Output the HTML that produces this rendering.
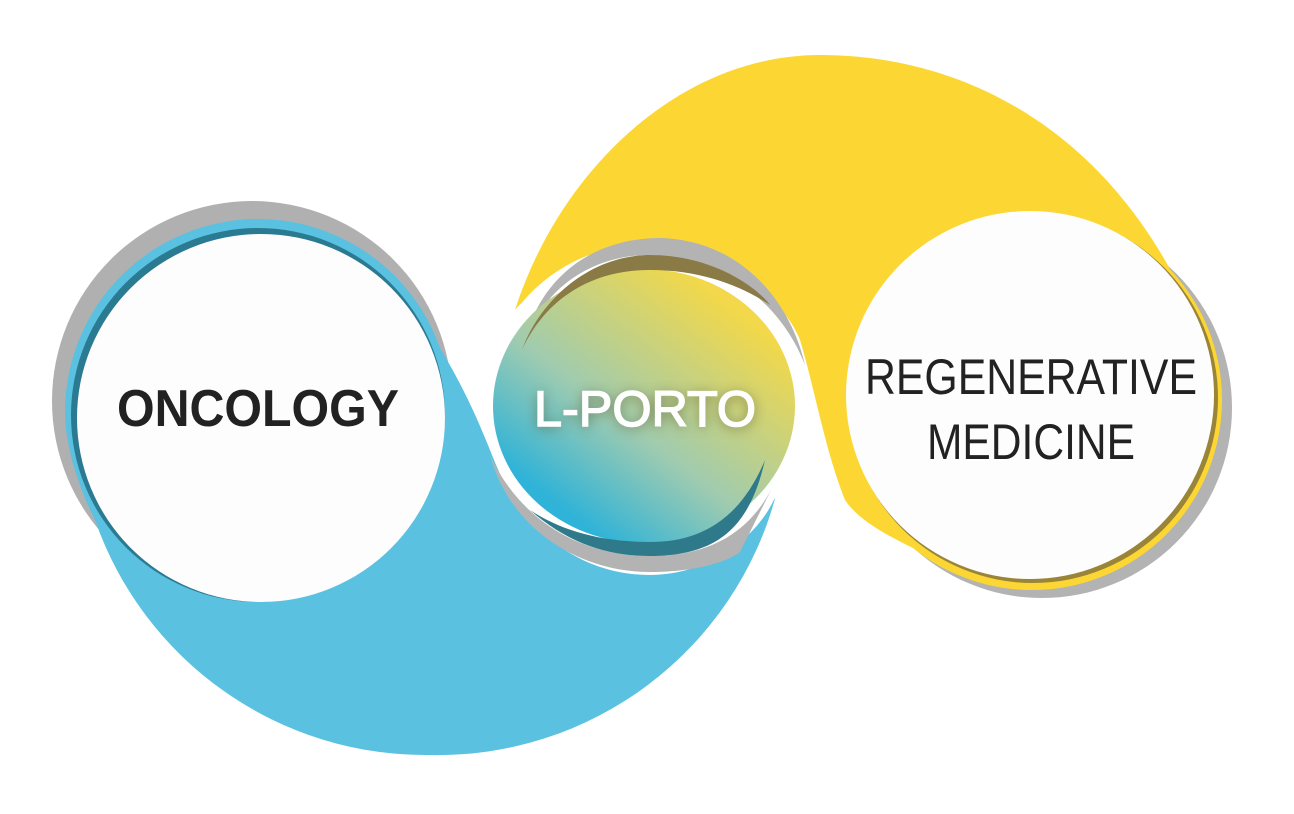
<!DOCTYPE html>
<html><head><meta charset="utf-8"><style>
html,body{margin:0;padding:0;background:#fff;width:1294px;height:814px;overflow:hidden}
</style></head><body>
<svg width="1294" height="814" viewBox="0 0 1294 814" xmlns="http://www.w3.org/2000/svg">
<defs>
<linearGradient id="lg" x1="0.2" y1="0.85" x2="0.8" y2="0.15">
<stop offset="0" stop-color="#2fb3d8"/>
<stop offset="0.4" stop-color="#9fcbb0"/>
<stop offset="1" stop-color="#f2d84a"/>
</linearGradient>
<filter id="glow" x="-20%" y="-50%" width="140%" height="200%">
<feGaussianBlur stdDeviation="6"/>
</filter>
</defs>
<!-- regenerative gray shadow -->
<circle cx="1042" cy="408" r="190" fill="#b3b3b3"/>
<!-- yellow shape -->
<path d="M515,310 C560,170 680,55 820,55 C1000,55 1160,170 1222,400 L1032,400 L913,548 C880,532 857,518 845,500 C825,450 815,390 800,340 C780,290 720,262 660,262 C600,262 540,280 515,310 Z" fill="#fcd734"/>
<circle cx="1032" cy="400" r="190" fill="#fcd734"/>
<!-- gray shadow for oncology -->
<circle cx="252" cy="401" r="200" fill="#b0b0b0"/>
<!-- blue shape -->
<path d="M65,412 A193 193 0 0 1 258,219 A193 193 0 0 1 440,348 C465,390 478,420 492,455 C520,530 580,575 650,575 C710,575 760,535 776,495 A350 350 0 0 1 430,755 A350 350 0 0 1 95,520 C75,480 65,440 65,412 Z" fill="#5bc1e1"/>
<circle cx="258" cy="415" r="187" fill="#2a7a92"/>
<circle cx="261" cy="418" r="184" fill="#fdfdfd"/>
<!-- L-PORTO -->
<circle cx="645" cy="405" r="160" fill="#fff"/>
<path d="M522,350 C540,270 600,238 660,238 C740,240 790,300 805,365 C780,300 720,258 650,255 C590,255 540,290 522,350 Z" fill="#b3b3b3"/>
<path d="M490,455 C510,530 580,572 650,572 C700,572 730,560 740,552 L772,488 C745,540 700,556 650,556 C580,556 520,520 490,455 Z" fill="#b3b3b3"/>
<ellipse cx="644" cy="406" rx="151" ry="137" fill="url(#lg)"/>
<path d="M522,350 C540,300 590,255 650,255 C710,255 755,285 770,305 C740,285 700,270 650,270 C590,270 545,300 522,350 Z" fill="#8a7a45"/>
<path d="M530,510 C570,545 610,556 650,556 C720,556 750,525 765,460 C740,520 700,542 650,542 C600,542 560,530 530,510 Z" fill="#2f7a8a"/>
<!-- regenerative -->
<circle cx="1033" cy="398" r="185" fill="#9a8438"/>
<circle cx="1030" cy="395" r="184" fill="#fdfdfd"/>
<!-- text -->
<text x="258" y="426" font-family="Liberation Sans, sans-serif" font-weight="bold" font-size="52" fill="#222" text-anchor="middle" textLength="282" lengthAdjust="spacingAndGlyphs">ONCOLOGY</text>
<text x="645" y="428" font-family="Liberation Sans, sans-serif" font-size="50" fill="#5a5a30" text-anchor="middle" textLength="222" lengthAdjust="spacingAndGlyphs" filter="url(#glow)" opacity="0.8">L-PORTO</text>
<text x="645" y="426" font-family="Liberation Sans, sans-serif" font-size="50" fill="#fff" stroke="#fff" stroke-width="1.5" text-anchor="middle" textLength="222" lengthAdjust="spacingAndGlyphs">L-PORTO</text>
<text x="1031" y="394" font-family="Liberation Sans, sans-serif" font-size="50" fill="#222" text-anchor="middle" textLength="332" lengthAdjust="spacingAndGlyphs">REGENERATIVE</text>
<text x="1031" y="459" font-family="Liberation Sans, sans-serif" font-size="50" fill="#222" text-anchor="middle" textLength="208" lengthAdjust="spacingAndGlyphs">MEDICINE</text>
</svg>
</body></html>
